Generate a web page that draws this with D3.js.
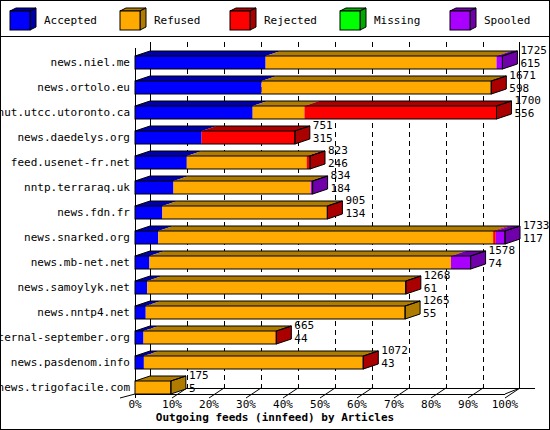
<!DOCTYPE html>
<html><head><meta charset="utf-8">
<script src="https://cdn.jsdelivr.net/npm/d3@7"></script>
<style>body{margin:0;background:#fff}text{font-family:"DejaVu Sans Mono",monospace;font-size:11px}</style>
</head><body><svg id="c" width="550" height="430"></svg>
<script>
const hosts = ['news.niel.me','news.ortolo.eu','nut.utcc.utoronto.ca','news.daedelys.org','feed.usenet-fr.net','nntp.terraraq.uk','news.fdn.fr','news.snarked.org','news.mb-net.net','news.samoylyk.net','news.nntp4.net','eternal-september.org','news.pasdenom.info','news.trigofacile.com']
const offered = [1725,1671,1700,751,823,834,905,1733,1578,1268,1265,665,1072,175]
const accepted = [615,598,556,315,246,184,134,117,74,61,55,44,43,5]
// segment widths in % of axis
const pAccepted = [35.3,34.2,31.8,18.0,14.0,10.4,7.4,6.3,3.9,3.3,2.9,2.3,2.4,0]
const pRefused  = [62.4,61.9,14.0,0,32.4,37.1,44.4,90.5,81.5,69.7,70.1,35.7,59.1,9.7]
const pRejected = [0,0.2,51.9,25.2,0.9,0,0.2,0.7,0,0.2,0,0.2,0.2,0]
const pMissing  = [0,0,0,0,0,0,0,0,0,0,0,0,0,0]
const pSpooled  = [1.6,0,0,0,0,0.5,0,2.5,5.3,0,0,0,0,0]
const statuses = ['Accepted','Refused','Rejected','Missing','Spooled']
const ticks = d3.range(0, 101, 10)

const colors = ['#0000ff','#ffaa00','#ff0000','#00ff00','#aa00ff']
const darks = ['#0000aa','#b07c00','#aa0000','#00aa00','#7000aa']
const series = [pAccepted,pRefused,pRejected,pMissing,pSpooled]

const svg = d3.select('#c')
svg.append('rect').attr('x',0.5).attr('y',0.5).attr('width',549).attr('height',429).attr('fill','#fff').attr('stroke','#000')
svg.append('line').attr('x1',0).attr('x2',550).attr('y1',36.5).attr('y2',36.5).attr('stroke','#000')

// legend
statuses.forEach((s,i) => {
  const lx = 10 + i*110, ly = 11, w = 20, h = 19, d = 6, u = 3
  const g = svg.append('g').attr('stroke','#000').attr('stroke-width',1)
  g.append('path').attr('d',`M${lx},${ly}L${lx+d},${ly-u}L${lx+w+d},${ly-u}L${lx+w},${ly}Z`).attr('fill',darks[i])
  g.append('path').attr('d',`M${lx+w},${ly}L${lx+w+d},${ly-u}L${lx+w+d},${ly+h-u}L${lx+w},${ly+h}Z`).attr('fill',darks[i])
  g.append('rect').attr('x',lx).attr('y',ly).attr('width',w).attr('height',h).attr('fill',colors[i])
  svg.append('text').attr('x',lx+34).attr('y',24).text(s)
})

const x = d3.scaleLinear().domain([0,100]).range([135,505])
const rowY = h => 56 + hosts.indexOf(h)*25
const bh = 13, dx = 15, dy = 5
const wallTop = 42, floorB = 388, floorF = 394

// back wall + grid
svg.append('line').attr('x1',150.5).attr('x2',150.5).attr('y1',wallTop).attr('y2',floorB).attr('stroke','#000')
svg.append('line').attr('x1',519.5).attr('x2',519.5).attr('y1',wallTop).attr('y2',floorB).attr('stroke','#000')
svg.selectAll('.grid').data(ticks.slice(1,-1)).join('line')
  .attr('x1',t=>Math.round(x(t))+dx+0.5).attr('x2',t=>Math.round(x(t))+dx+0.5)
  .attr('y1',wallTop).attr('y2',floorB).attr('stroke','#000').attr('stroke-dasharray','5,4')
// floor
svg.append('line').attr('x1',150).attr('x2',535).attr('y1',floorB+0.5).attr('y2',floorB+0.5).attr('stroke','#000')
svg.append('line').attr('x1',135).attr('x2',505).attr('y1',floorF+0.5).attr('y2',floorF+0.5).attr('stroke','#000')
svg.append('line').attr('x1',120).attr('y1',floorF+4).attr('x2',135).attr('y2',floorF).attr('stroke','#000')
svg.append('line').attr('x1',505).attr('y1',floorF).attr('x2',520).attr('y2',floorB).attr('stroke','#000')
svg.append('line').attr('x1',135.5).attr('x2',135.5).attr('y1',48).attr('y2',floorF+4).attr('stroke','#000')
svg.selectAll('.tk').data(ticks.slice(1)).join('line')
  .attr('x1',t=>x(t)).attr('y1',floorF+4).attr('x2',t=>x(t)+dx).attr('y2',floorB).attr('stroke','#000')
svg.selectAll('.tl').data(ticks).join('text')
  .attr('x',t=>x(t)).attr('y',408).attr('text-anchor','middle').text(t=>t+'%')
svg.append('text').attr('x',275).attr('y',421).attr('text-anchor','middle')
  .style('font-weight','bold').text('Outgoing feeds (innfeed) by Articles')

// bars
hosts.forEach((h,r) => {
  const y0 = rowY(h)
  let acc = 0, last = -1
  const g = svg.append('g').attr('stroke','#000').attr('stroke-width',1)
  series.forEach((s,i) => {
    const v = s[r]; if (!v) return
    const a = x(acc), b = x(acc+v)
    g.append('path').attr('d',`M${a},${y0}L${a+dx},${y0-dy}L${b+dx},${y0-dy}L${b},${y0}Z`).attr('fill',darks[i]).attr('stroke','none')
    g.append('rect').attr('x',a).attr('y',y0).attr('width',b-a).attr('height',bh).attr('fill',colors[i]).attr('stroke','none')
    acc += v; last = i
  })
  const a = x(0), e = x(acc)
  g.append('path').attr('d',`M${e},${y0}L${e+dx},${y0-dy}L${e+dx},${y0+bh-dy}L${e},${y0+bh}Z`).attr('fill',darks[last])
  g.append('path').attr('d',`M${a},${y0}L${a+dx},${y0-dy}L${e+dx},${y0-dy}L${e},${y0}`).attr('fill','none')
  g.append('rect').attr('x',a).attr('y',y0).attr('width',e-a).attr('height',bh).attr('fill','none')
  svg.append('text').attr('x',130).attr('y',y0+10).attr('text-anchor','end').text(h)
  svg.append('text').attr('x',e+dx+3).attr('y',y0-2).text(offered[r])
  svg.append('text').attr('x',e+dx+3).attr('y',y0+11).text(accepted[r])
})
</script></body></html>
